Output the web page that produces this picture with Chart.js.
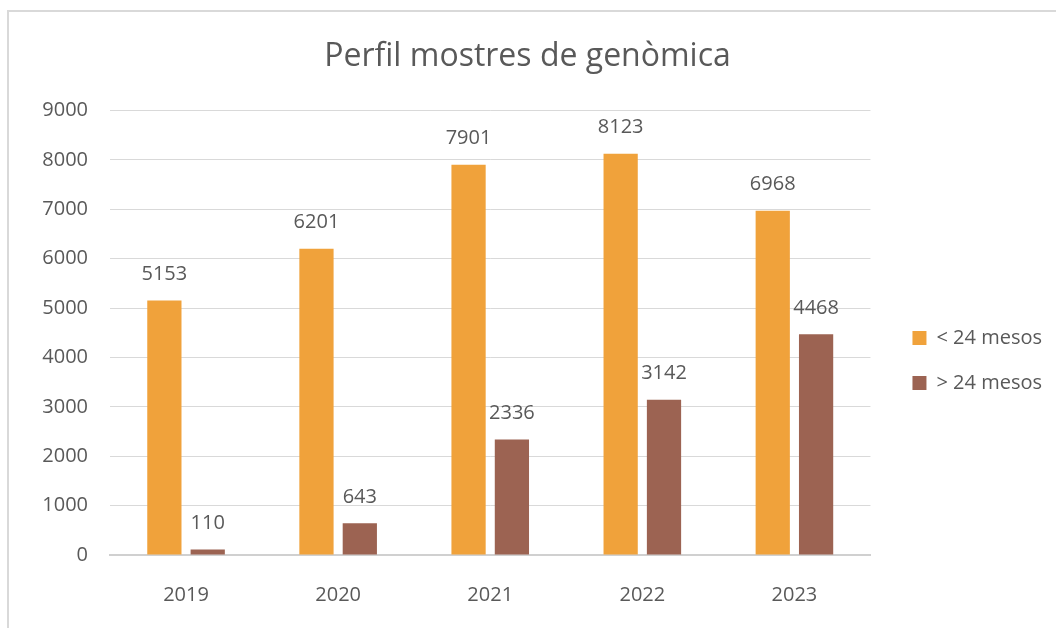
<!DOCTYPE html>
<html>
<head>
<meta charset="UTF-8" />
<title>Perfil mostres de genòmica</title>
<script src="https://cdn.jsdelivr.net/npm/chart.js@4/dist/chart.umd.min.js"></script>
<style>
	html, body { margin: 0; padding: 0; background: #fff; overflow: hidden; }
	.wrap { position: relative; width: 1056px; height: 628px; }
	.frame {
		position: absolute; left: 7px; top: 10px;
		width: 1100px; height: 700px;
		border: 2px solid #d9d9d9;
	}
	canvas { position: absolute; left: 0; top: 0; }
</style>
</head>
<body>
<div class="wrap">
	<div class="frame"></div>
	<canvas id="chart" width="1056" height="628"></canvas>
</div>
<script>
// dades llegides del gràfic
var years = ['2019', '2020', '2021', '2022', '2023'];
var menys24 = [5153, 6201, 7901, 8123, 6968];
var mes24 = [110, 643, 2336, 3142, 4468];
var labels = ['< 24 mesos', '> 24 mesos'];

var gray = '#595959';
var fontFam = '"Open Sans", "Noto Sans", sans-serif';

// etiquetes de valor a sobre de cada barra
var valueLabels = {
	id: 'valueLabels',
	afterDatasetsDraw: function (chart) {
		var ctx = chart.ctx;
		ctx.save();
		ctx.font = '20px ' + fontFam;
		ctx.fillStyle = gray;
		ctx.textAlign = 'center';
		ctx.textBaseline = 'middle';
		chart.data.datasets.forEach(function (ds, i) {
			chart.getDatasetMeta(i).data.forEach(function (bar, j) {
				ctx.fillText(ds.data[j], bar.x, bar.y - 26);
			});
		});
		ctx.restore();
	}
};

// moure la llegenda una mica (dreta i avall)
var legendShift = {
	id: 'legendShift',
	afterLayout: function (chart) {
		var lg = chart.legend;
		lg.left += 17;
		lg.right += 17;
		lg.top += 24;
		lg.bottom += 24;
	}
};

new Chart(document.getElementById('chart'), {
	type: 'bar',
	data: {
		labels: years,
		datasets: [{
			label: labels[0],
			data: menys24,
			backgroundColor: '#f0a23b',
			categoryPercentage: 0.57,
			barPercentage: 0.79
		}, {
			label: labels[1],
			data: mes24,
			backgroundColor: '#9c6352',
			categoryPercentage: 0.57,
			barPercentage: 0.79
		}]
	},
	options: {
		responsive: false,
		animation: false,
		layout: { padding: { left: 20, right: 21, top: 38, bottom: -7 } },
		plugins: {
			title: {
				display: true,
				text: 'Perfil mostres de genòmica',
				color: gray,
				font: { family: fontFam, size: 32, weight: 'normal' },
				padding: { top: 0, bottom: 34 }
			},
			legend: {
				position: 'right',
				labels: {
					color: gray,
					font: { family: fontFam, size: 20 },
					boxWidth: 14,
					boxHeight: 14,
					padding: 25
				}
			},
			tooltip: { enabled: false }
		},
		scales: {
			x: {
				grid: { display: false, drawTicks: false },
				border: { color: '#d0d0d0', width: 2 },
				ticks: { color: gray, font: { family: fontFam, size: 20 }, padding: 28 }
			},
			y: {
				min: 0,
				max: 9000,
				grid: { color: '#d9d9d9', drawTicks: false },
				border: { display: false },
				afterFit: function (scale) { scale.width = 90; },
				ticks: {
					stepSize: 1000,
					color: gray,
					font: { family: fontFam, size: 20 },
					padding: 22,
					callback: function (v) { return String(v); }
				}
			}
		}
	},
	plugins: [valueLabels, legendShift]
});
</script>
</body>
</html>
